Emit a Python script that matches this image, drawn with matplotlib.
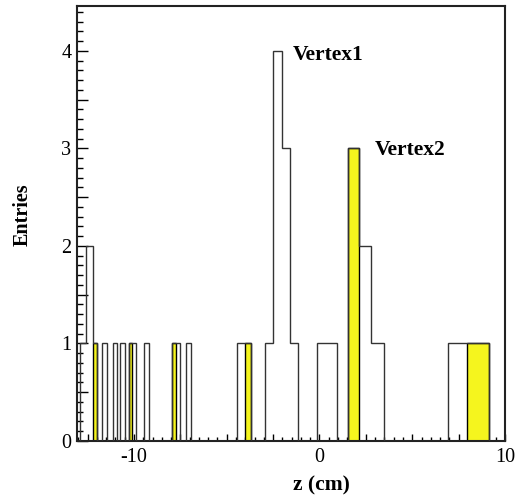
import matplotlib
matplotlib.use("Agg")
import matplotlib.pyplot as plt
from matplotlib.ticker import MultipleLocator, FuncFormatter
import numpy as np

plt.rcParams['font.family'] = ['Liberation Serif', 'DejaVu Serif']
plt.rcParams['axes.unicode_minus'] = False

# bin edges (cm) and counts
bin_edges = [-12.91, -12.56, -12.19, -12.01, -11.70, -11.47, -11.12, -10.93,
             -10.76, -10.49, -10.29, -10.09, -9.91, -9.46, -9.19, -7.97,
             -7.74, -7.52, -7.21, -6.94, -4.42, -4.04, -3.67, -2.91,
             -2.51, -2.02, -1.59, -1.16, -0.15, 0.93, 1.51, 2.15,
             2.79, 3.50, 6.91, 7.97, 9.14]
all_counts = [1, 2, 1, 0, 1, 0, 1, 0, 1, 0, 1, 1, 0, 1, 0, 1, 1, 0,
              1, 0, 1, 1, 0, 1, 4, 3, 1, 0, 1, 0, 3, 2, 1, 0, 1, 1]
vertex2_counts = [0, 0, 1, 0, 0, 0, 0, 0, 0, 0, 1, 0, 0, 0, 0, 1, 0, 0,
                  0, 0, 0, 1, 0, 0, 0, 0, 0, 0, 0, 0, 3, 0, 0, 0, 0, 1]
x_labels = {-10: "-10", 0: "0", 10: "10"}
y_labels = [0, 1, 2, 3, 4]

fig = plt.figure(figsize=(5.26, 4.97), dpi=100)
ax = fig.add_axes([0.1464, 0.1127, 0.8137, 0.8752])

edges = np.array(bin_edges)
v2 = np.array(vertex2_counts, dtype=float)
# yellow filled bars for vertex 2
for i in range(len(v2)):
    if v2[i] > 0:
        ax.bar(edges[i], v2[i], width=edges[i + 1] - edges[i], align='edge',
               color='#f5f51e', edgecolor='black', linewidth=1.0, zorder=2)
# outline histogram of all entries
ax.stairs(all_counts, edges, color='#333333', linewidth=1.0, zorder=3)

ax.set_xlim(-13.07, 10.0)
ax.set_ylim(0, 4.46)

ax.xaxis.set_major_locator(MultipleLocator(2.5))
ax.xaxis.set_minor_locator(MultipleLocator(0.5))
ax.xaxis.set_major_formatter(FuncFormatter(
    lambda v, p: x_labels.get(int(round(v)), "") if abs(v - round(v)) < 1e-6 else ""))
ax.yaxis.set_major_locator(MultipleLocator(0.5))
ax.yaxis.set_minor_locator(MultipleLocator(0.1))
ax.yaxis.set_major_formatter(FuncFormatter(
    lambda v, p: str(int(round(v))) if abs(v - round(v)) < 1e-6 and int(round(v)) in y_labels else ""))

ax.tick_params(axis='both', which='both', direction='in', top=False, right=False,
               labelsize=14.5, colors='black', width=1.0)
ax.tick_params(axis='x', which='major', length=5, pad=5)
ax.tick_params(axis='x', which='minor', length=3)
ax.tick_params(axis='y', which='major', length=8, pad=4)
ax.tick_params(axis='y', which='minor', length=4)

for s in ax.spines.values():
    s.set_linewidth(1.5)
    s.set_color('#222222')

ax.set_xlabel("z (cm)", fontsize=15.5, fontweight='bold')
ax.xaxis.set_label_coords(0.572, -0.08)
ax.set_ylabel("Entries", fontsize=14.5, fontweight='bold')
ax.yaxis.set_label_coords(-0.103, 0.52)

ax.text(-1.43, 3.96, "Vertex1", fontsize=15.5, fontweight='bold', va='center', ha='left')
ax.text(2.99, 2.98, "Vertex2", fontsize=15.5, fontweight='bold', va='center', ha='left')

fig.savefig("out.png", dpi=100)
